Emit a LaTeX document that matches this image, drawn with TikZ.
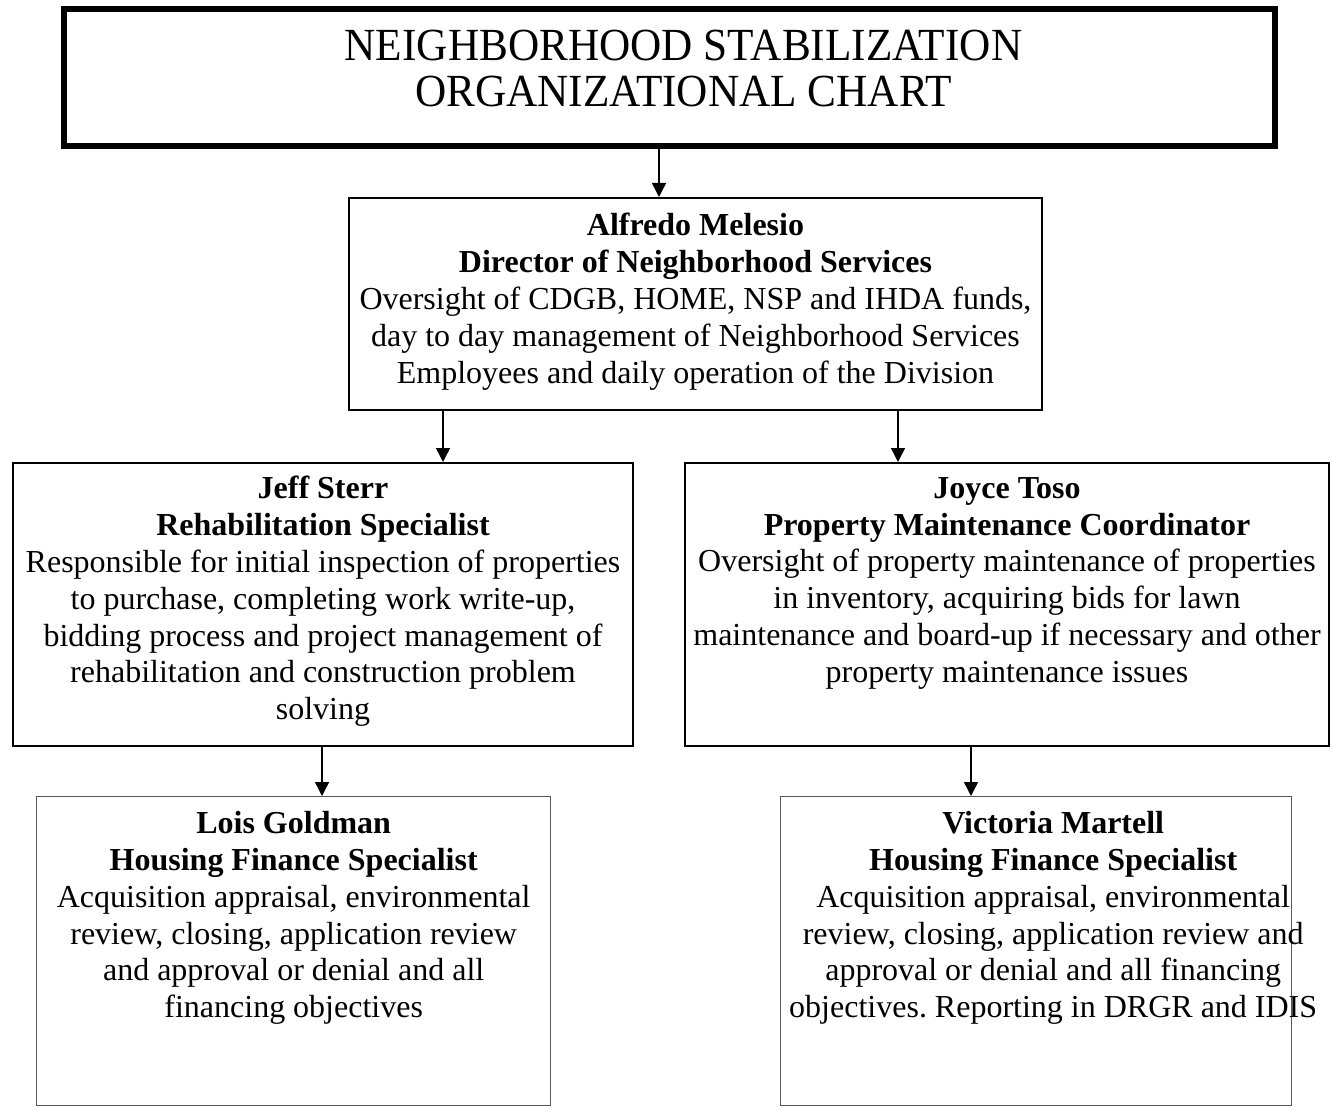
\documentclass[tikz,border=0pt]{standalone}
\usepackage{fontspec}
\setmainfont{Liberation Serif}
\newfontfamily\titlefont[FakeStretch=0.94]{Liberation Serif}
\frenchspacing
\usetikzlibrary{positioning,arrows.meta}
\tikzset{>={Triangle[width=7pt,length=7pt]}}
\tikzset{
  orgbox/.style={draw, line width=1pt, inner sep=0pt, anchor=north west},
  lowbox/.style={draw=black!65, line width=0.7pt, inner sep=0pt, anchor=north west},
  boxtext/.style={align=center, inner sep=0pt, execute at begin node=\strut,
    font=\fontsize{16}{18.4}\selectfont},
  link/.style={->, line width=0.75pt},
}

\begin{document}
\begin{tikzpicture}[x=0.5pt,y=-0.5pt]
      \useasboundingbox (0,0) rectangle (1333,1107);
      \node[orgbox, line width=3pt, minimum width=605.5pt, minimum height=68.5pt] (title) at (61,6) {};
      \node[boxtext, below=12pt of title.north, xshift=7pt, font=\titlefont\fontsize{23}{23}\selectfont] (titletext) {NEIGHBORHOOD STABILIZATION\\ORGANIZATIONAL CHART};
      \node[orgbox, minimum width=346.5pt, minimum height=106pt] (dir) at (348,197) {};
      \node[boxtext, below=8pt of dir.north] (dirtext) {\textbf{Alfredo Melesio}\\\textbf{Director of Neighborhood Services}\\Oversight of CDGB, HOME, NSP and IHDA funds,\\day to day management of Neighborhood Services\\Employees and daily operation of the Division};
      \node[orgbox, minimum width=310pt, minimum height=141.5pt] (jeff) at (12,462) {};
      \node[boxtext, below=7pt of jeff.north] (jefftext) {\textbf{Jeff Sterr}\\\textbf{Rehabilitation Specialist}\\Responsible for initial inspection of properties\\to purchase, completing work write-up,\\bidding process and project management of\\rehabilitation and construction problem\\solving};
      \node[orgbox, minimum width=322pt, minimum height=141.5pt] (joyce) at (684,462) {};
      \node[boxtext, below=7.5pt of joyce.north] (joycetext) {\textbf{Joyce Toso}\\\textbf{Property Maintenance Coordinator}\\Oversight of property maintenance of properties\\in inventory, acquiring bids for lawn\\maintenance and board-up if necessary and other\\property maintenance issues};
      \node[lowbox, minimum width=257pt, minimum height=154.5pt] (lois) at (36,796) {};
      \node[boxtext, below=7.5pt of lois.north] (loistext) {\textbf{Lois Goldman}\\\textbf{Housing Finance Specialist}\\Acquisition appraisal, environmental\\review, closing, application review\\and approval or denial and all\\financing objectives};
      \node[lowbox, minimum width=255.5pt, minimum height=154.5pt] (victoria) at (780,796) {};
      \node[boxtext, below=7.5pt of victoria.north, xshift=8.5pt] (victoriatext) {\textbf{Victoria Martell}\\\textbf{Housing Finance Specialist}\\Acquisition appraisal, environmental\\review, closing, application review and\\approval or denial and all financing\\objectives. Reporting in DRGR and IDIS};
      % arrow positions
      \coordinate (a0) at (659,0);
      \coordinate (a1) at (443,0);
      \coordinate (a2) at (898,0);
      \coordinate (a3) at (322,0);
      \coordinate (a4) at (971,0);
      \draw[link] (title.south -| a0) -- (dir.north -| a0);
      \draw[link] (dir.south -| a1) -- (jeff.north -| a1);
      \draw[link] (dir.south -| a2) -- (joyce.north -| a2);
      \draw[link] (jeff.south -| a3) -- (lois.north -| a3);
      \draw[link] (joyce.south -| a4) -- (victoria.north -| a4);
\end{tikzpicture}
\end{document}
